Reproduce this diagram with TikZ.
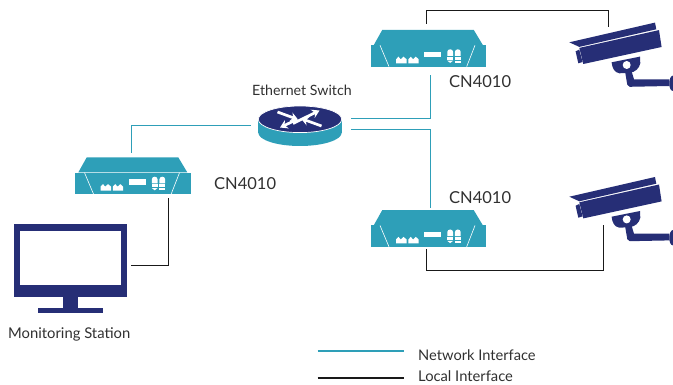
\documentclass[tikz,border=0pt]{standalone}
\usepackage{fontspec}
\setmainfont{Lato}
\usetikzlibrary{arrows.meta}
\definecolor{navy}{HTML}{262E76}
\definecolor{teal2}{HTML}{2E9FB8}
\definecolor{txt}{HTML}{303030}
\tikzset{
  x=1pt,y=-1pt,
  lbl/.style={inner sep=0pt,text=txt,anchor=base west},
  sz/.style={font=\fontsize{#1}{18}\selectfont},
  net/.style={draw=teal2,line width=1.6pt},
  loc/.style={draw=black!90,line width=1.6pt},
  anchorbox/.style={inner sep=0pt,outer sep=0pt,minimum width=#1},
  wa/.style={white,line width=2.7pt,-{Stealth[length=7.5pt,width=9pt]}},
  pics/device/.style={code={
    \fill[teal2] (-46.3,-18.3)--(45.3,-18.3)--(54.3,-3.3)--(-54.7,-3.3)--cycle;
    \fill[teal2] (-58,-3)--(57.7,-3)--(57.7,18.3)--(-58,18.3)--cycle;
    \draw[white,line width=.6pt] (-48.5,-3)--(-39.5,18.3) (46.5,-3)--(38.2,18.3);
    \fill[white] (-32.5,15)--(-32.5,11)--(-30,8.4)--(-27.8,11)--(-25,8.4)--(-21.8,11)--(-21.8,15)--cycle;
    \fill[white] (-20.2,15)--(-20.2,11)--(-17.7,8.4)--(-15.5,11)--(-12.7,8.4)--(-9.8,11)--(-9.8,15)--cycle;
    \fill[white] (-4.5,3.4) rectangle (12.5,9);
    \foreach \dx in {18.8,26.4}{
      \fill[white] (\dx,7.7)--(\dx,3.5) .. controls (\dx,2) and (\dx+1.5,1) .. (\dx+2.9,1) .. controls (\dx+4.3,1) and (\dx+5.8,2) .. (\dx+5.8,3.5)--(\dx+5.8,7.7)--cycle;
      \fill[white] (\dx,8.5)--(\dx+5.8,8.5)--(\dx+5.8,11.7)--(\dx,11.7)--cycle;
    }
    \fill[white] (18.8,12.4)--(24.6,12.4)--(21.7,14.6)--cycle;
    \fill[white] (26.4,12.6) rectangle (32.2,14.6);
  }},
  pics/camera/.style={code={
    \fill[navy] (0,0)--(85.7,-19.7)--(87,-13)--(10,4.6)--cycle;
    \fill[navy] (10,5.6)--(89.7,-12.2)--(92.3,4.7)--(14,21.7)--cycle;
    \fill[navy] (6.3,9)--(10,7.3)--(13.3,19.7)--(9,21)--cycle;
    \fill[navy] (42.3,20)--(70.7,14.3)--(71,21) .. controls (70,26) and (66,30) .. (60,30.5) -- (50,31) .. controls (45,30) and (43,26) .. (42.3,20)--cycle;
    \fill[white] (57.4,22.7) circle (4pt);
    \fill[navy] (55.7,29)--(62.3,29)--(64.7,37)--(100,37)--(100,43.7)--(60.5,44.5)--(58,42.5)--cycle;
    \fill[navy] (103.7,33.3) .. controls (99,33.5) and (98.5,48.5) .. (103.7,48.7) --cycle;
  }}
}
\begin{document}
\begin{tikzpicture}
\useasboundingbox (0,0) rectangle (673,385);
% nodes
\node[anchorbox=116,minimum height=37] (devL) at (133,175.7) {};
\node[anchorbox=116,minimum height=37] (devT) at (428.5,48.3) {};
\node[anchorbox=116,minimum height=37] (devB) at (428.5,228.5) {};
\node[anchorbox=86,minimum height=42] (sw) at (300,126) {};
\node[anchorbox=113,minimum height=73] (mon) at (70.7,260.5) {};
\node[anchorbox=90,minimum height=40] (camT) at (615,50) {};
\node[anchorbox=90,minimum height=40] (camB) at (615,210) {};
\pic at (devL) {device};
\pic at (devT) {device};
\pic at (devB) {device};
\pic at (569.3,42.3) {camera};
\pic at (569.3,196.7) {camera};
% switch
\fill[teal2] (300,132.7) ellipse (41.7 and 13.3);
\fill[teal2] (258.3,119.3) rectangle (341.7,132.7);
\fill[navy,draw=white,line width=.7pt] (300,119.3) ellipse (41.7 and 13.3);
\draw[wa] (277.5,112)--(298,119.5);
\draw[wa] (297,119.5)--(280,127.5);
\draw[wa] (293,123.5)--(319.5,110.5);
\draw[wa] (321.5,126)--(301,118.5);
% monitor
\fill[navy] (14,224.3) rectangle (127.3,296.7);
\fill[white] (20,231) rectangle (120.7,285);
\fill[navy] (63.3,296.7) rectangle (78.3,308.5);
\fill[navy] (38,308.3) rectangle (103,313.3);
% connectors
\draw[net] ([shift={(-1.5,-4.2)}]devL.north) |- ([shift={(-6,-0.5)}]sw.west);
\draw[net] ([shift={(8,-7.5)}]sw.east) -| ([shift={(2,8.3)}]devT.south);
\draw[net] ([shift={(8,3.5)}]sw.east) -| ([shift={(2,-2.3)}]devB.north);
\draw[loc] ([shift={(-2,-6)}]devT.north) |- ([shift={(-6.5,-39.5)}]camT.center) -- ([shift={(-6.5,-23)}]camT.center);
\draw[loc] ([shift={(-2,2)}]devB.south) |- ([shift={(-11.5,60.5)}]camB.center) -- ([shift={(-11.5,15)}]camB.center);
\draw[loc] ([shift={(35.5,4)}]devL.south) |- ([shift={(4,5)}]mon.east);
% labels
\node[lbl,sz=14.2] (l1) at (252,96) {Ethernet Switch};
\node[lbl,sz=16.5] (l2) at (214,190) {CN4010};
\node[lbl,sz=16.5] (l3) at (449,87.7) {CN4010};
\node[lbl,sz=16.5] (l4) at (449,203.7) {CN4010};
\node[lbl,sz=14.8] (l5) at (8,338) {Monitoring Station};
\node[lbl,sz=14.65] (l6) at (418,360.3) {Network Interface};
\node[lbl,sz=14.75] (l7) at (418,381.5) {Local Interface};
\coordinate (k1) at (317.7,351);
\coordinate (k2) at (404,351);
\coordinate (k3) at (317.7,377.7);
\coordinate (k4) at (404,377.7);
\draw[net,line width=1.8pt] (k1)--(k2);
\draw[loc,line width=2pt] (k3)--(k4);
\end{tikzpicture}
\end{document}
